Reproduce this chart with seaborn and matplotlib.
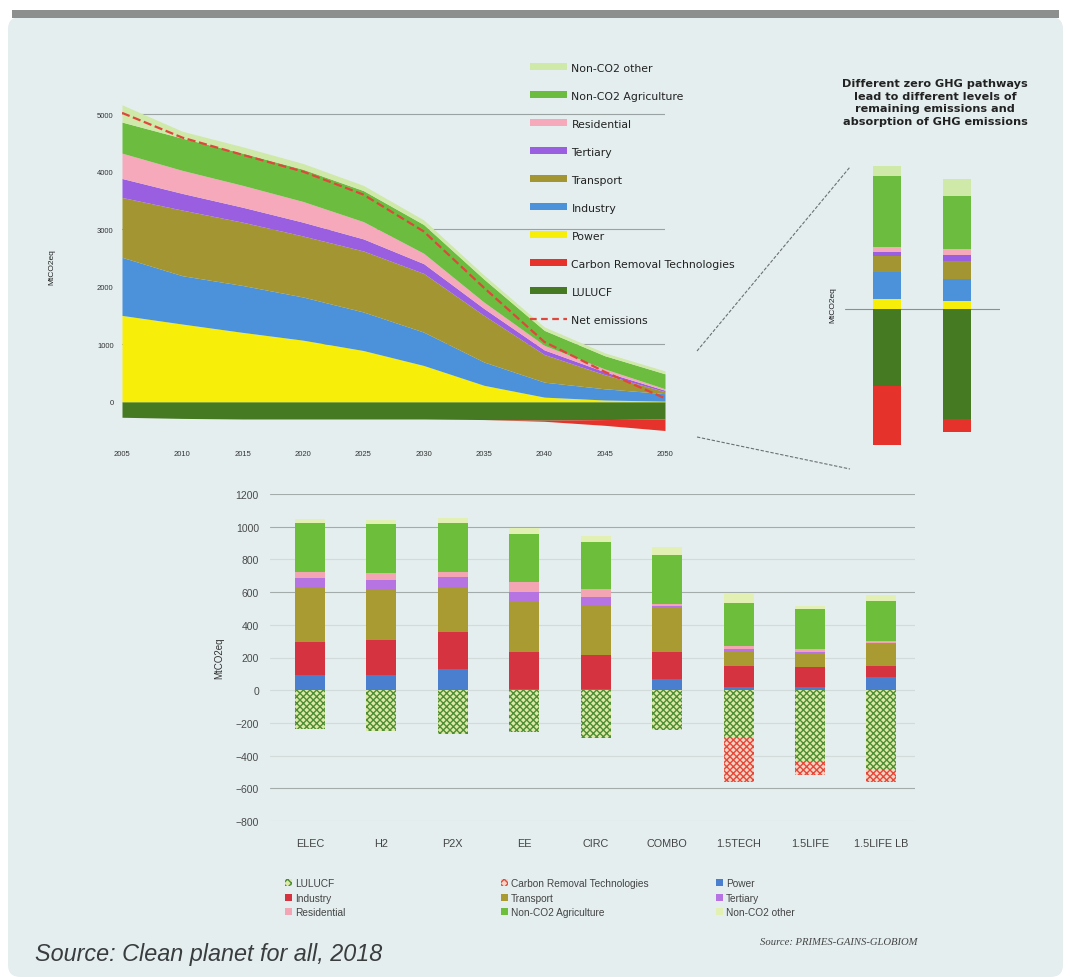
import numpy as np
import pandas as pd
import seaborn as sns
import matplotlib.pyplot as plt
from matplotlib.patches import Patch, Rectangle, FancyBboxPatch
from matplotlib.lines import Line2D

sns.set_theme(style="white")
plt.rcParams['font.family'] = ['Liberation Sans', 'DejaVu Sans']

# ---- top chart: EU GHG emissions by sector (MtCO2eq) ----
years = [2005, 2010, 2015, 2020, 2025, 2030, 2035, 2040, 2045, 2050]
power = [1500, 1350, 1205, 1070, 890, 630, 285, 80, 30, 10]
industry = [1010, 840, 815, 750, 670, 580, 405, 260, 195, 130]
transport = [1040, 1140, 1100, 1060, 1060, 1020, 810, 480, 245, 35]
tertiary = [330, 290, 260, 240, 210, 170, 120, 80, 50, 25]
residential = [440, 400, 380, 360, 300, 180, 110, 80, 50, 25]
agri = [540, 560, 560, 560, 540, 500, 400, 260, 230, 260]
other = [300, 120, 110, 100, 90, 80, 70, 60, 50, 50]
lulucf = [-270, -290, -300, -300, -300, -300, -310, -320, -310, -300]
crt = [0, 0, 0, 0, 0, 0, 0, -20, -100, -200]
net = [5020, 4590, 4290, 4000, 3600, 2960, 1980, 1040, 520, 60]

# ---- right chart: 2050 breakdown for two pathways ----
path_power = [43, 34]
path_industry = [115, 94]
path_transport = [68, 77]
path_tertiary = [17, 25]
path_residential = [21, 25]
path_agri = [302, 225]
path_other = [43, 72]
path_lulucf = [-330, -468]
path_crt = [-250, -55]

# ---- bottom chart: 2050 emissions by scenario ----
scenarios = ["ELEC", "H2", "P2X", "EE", "CIRC", "COMBO", "1.5TECH", "1.5LIFE", "1.5LIFE LB"]
b_power = [90, 95, 130, 10, 10, 70, 20, 20, 80]
b_industry = [205, 210, 225, 225, 205, 165, 130, 120, 70]
b_transport = [335, 310, 275, 305, 305, 265, 90, 80, 130]
b_tertiary = [55, 60, 60, 60, 50, 15, 15, 15, 10]
b_residential = [35, 40, 30, 60, 50, 15, 15, 15, 10]
b_agri = [300, 300, 305, 295, 285, 295, 265, 245, 245]
b_other = [25, 25, 30, 40, 40, 50, 60, 20, 40]
b_lulucf = [-235, -250, -270, -255, -295, -245, -285, -430, -490]
b_crt = [0, 0, 0, 0, 0, 0, -275, -90, -70]

top_colors = {
    "Non-CO2 other": "#cfe9a8",
    "Non-CO2 Agriculture": "#6cbd3f",
    "Residential": "#f5a9bb",
    "Tertiary": "#9a5ee0",
    "Transport": "#a29532",
    "Industry": "#4b92da",
    "Power": "#f7ef0a",
    "Carbon Removal Technologies": "#e5332b",
    "LULUCF": "#467a22",
}
bot_colors = {
    "Power": "#4a7fcf",
    "Industry": "#d63340",
    "Transport": "#a99b31",
    "Tertiary": "#b673e2",
    "Residential": "#f4a5b4",
    "Non-CO2 Agriculture": "#6dbf3b",
    "Non-CO2 other": "#e3f0b4",
}

W, H = 1071, 978
fig = plt.figure(figsize=(W / 100, H / 100), dpi=100, facecolor="white")

# panel background
fig.add_artist(FancyBboxPatch((8 / W, 0.0), 1 - 16 / W, 1 - 18 / H,
                              boxstyle="round,pad=0,rounding_size=0.012",
                              transform=fig.transFigure, facecolor="#e4eeef",
                              edgecolor="none", zorder=-10))
fig.add_artist(Rectangle((12 / W, 1 - 19 / H), 1 - 24 / W, 8 / H,
                         transform=fig.transFigure, facecolor="#8d8f8f",
                         edgecolor="none", zorder=-9))

# ---------------- top stacked area ----------------
ax1 = fig.add_axes([122 / W, 1 - 443 / H, (665 - 122) / W, (443 - 92) / H])
ax1.set_facecolor("none")
ax1.stackplot(years, lulucf, crt,
              colors=[top_colors["LULUCF"], top_colors["Carbon Removal Technologies"]], lw=0)
ax1.stackplot(years, power, industry, transport, tertiary, residential, agri, other,
              colors=[top_colors[k] for k in ["Power", "Industry", "Transport", "Tertiary",
                                               "Residential", "Non-CO2 Agriculture", "Non-CO2 other"]],
              lw=0)
sns.lineplot(x=years, y=net, ax=ax1, color="#e0473c", linestyle="--", lw=1.6,
             dashes=(4, 2), legend=False)
ax1.set_xlim(2005, 2050)
ax1.set_ylim(-700, 5400)
ax1.set_xticks(years)
ax1.set_yticks(range(0, 5001, 1000))
ax1.tick_params(labelsize=5.5, colors="#333333", length=0, pad=6)
ax1.set_ylabel("MtCO2eq", fontsize=6, color="#222222", labelpad=30)
for s in ax1.spines.values():
    s.set_visible(False)
ax1.set_axisbelow(True)
ax1.yaxis.grid(True, color="#9aa2a2", lw=0.8)
for i, gl in enumerate(ax1.yaxis.get_gridlines()):
    if i % 2 == 0:
        gl.set_visible(False)

top_order = ["Non-CO2 other", "Non-CO2 Agriculture", "Residential", "Tertiary", "Transport",
             "Industry", "Power", "Carbon Removal Technologies", "LULUCF"]
h_top = [Patch(facecolor=top_colors[k], edgecolor="none") for k in top_order]
h_top.append(Line2D([0], [0], color="#e0473c", lw=1.6, linestyle="--", dashes=(3, 2)))
fig.legend(h_top, top_order + ["Net emissions"], loc="upper left",
           bbox_to_anchor=(520 / W, 1 - 54 / H), frameon=False,
           prop={"family": "DejaVu Sans", "size": 7.8},
           handlelength=3.4, handleheight=0.6, labelspacing=1.66, handletextpad=0.45,
           labelcolor="#222222")

# ---------------- right: two pathway bars ----------------
ax2 = fig.add_axes([845 / W, 1 - 460 / H, 155 / W, 310 / H])
ax2.set_facecolor("none")
pos = np.arange(2)
bottom = np.zeros(2)
for vals, key in [(path_power, "Power"), (path_industry, "Industry"),
                  (path_transport, "Transport"), (path_tertiary, "Tertiary"),
                  (path_residential, "Residential"), (path_agri, "Non-CO2 Agriculture"),
                  (path_other, "Non-CO2 other")]:
    ax2.bar(pos, vals, width=0.39, bottom=bottom, color=top_colors[key], lw=0)
    bottom += np.array(vals)
bottom = np.zeros(2)
for vals, key in [(path_lulucf, "LULUCF"), (path_crt, "Carbon Removal Technologies")]:
    ax2.bar(pos, vals, width=0.39, bottom=bottom, color=top_colors[key], lw=0)
    bottom += np.array(vals)
ax2.axhline(0, color="#8a8f8f", lw=0.8, zorder=0)
ax2.set_xlim(-0.6, 1.614)
ax2.set_ylim(-640, 680)
ax2.set_xticks([])
ax2.set_yticks([])
ax2.set_ylabel("MtCO2eq", fontsize=6, color="#222222", labelpad=6)
for s in ax2.spines.values():
    s.set_visible(False)
fig.text(935 / W, 1 - 79 / H,
         "Different zero GHG pathways\nlead to different levels of\nremaining emissions and\nabsorption of GHG emissions",
         ha="center", va="top", family="DejaVu Sans", fontsize=8.1, fontweight="bold",
         color="#222222", linespacing=1.32)

# connector lines from 2050 to the pathway bars
fig.add_artist(Line2D([697 / W, 850 / W], [1 - 352 / H, 1 - 168 / H], transform=fig.transFigure,
                      color="#6b7070", lw=0.8, linestyle=(0, (3, 1.5))))
fig.add_artist(Line2D([697 / W, 850 / W], [1 - 438 / H, 1 - 470 / H], transform=fig.transFigure,
                      color="#6b7070", lw=0.8, linestyle=(0, (3, 1.5))))

# ---------------- bottom stacked bars ----------------
ax3 = fig.add_axes([270 / W, 1 - 822 / H, 645 / W, 327 / H])
ax3.set_facecolor("none")
x = np.arange(len(scenarios))
bw = 0.42
bottom = np.zeros(len(x))
for vals, key in [(b_power, "Power"), (b_industry, "Industry"), (b_transport, "Transport"),
                  (b_tertiary, "Tertiary"), (b_residential, "Residential"),
                  (b_agri, "Non-CO2 Agriculture"), (b_other, "Non-CO2 other")]:
    ax3.bar(x, vals, width=bw, bottom=bottom, color=bot_colors[key], lw=0)
    bottom += np.array(vals)
hatch_styles = {
    "LULUCF": dict(facecolor="#dde9a6", edgecolor="#4f8d35"),
    "Carbon Removal Technologies": dict(facecolor="#f9d3c4", edgecolor="#e2493a"),
}
bottom = np.zeros(len(x))
for vals, key in [(b_lulucf, "LULUCF"), (b_crt, "Carbon Removal Technologies")]:
    ax3.bar(x, vals, width=bw, bottom=bottom, hatch="xxxxx", lw=0, **hatch_styles[key])
    bottom += np.array(vals)
ax3.set_xlim(-0.56, 8.47)
ax3.set_ylim(-800, 1200)
ax3.set_yticks(range(-800, 1201, 200))
ax3.set_xticks(x)
ax3.set_xticklabels(scenarios)
ax3.tick_params(axis="y", labelsize=7.5, colors="#4a4a4a", length=0, pad=8)
ax3.tick_params(axis="x", labelsize=7.8, colors="#444444", length=0, pad=12)
ax3.set_ylabel("MtCO2eq", fontsize=7, color="#333333", labelpad=8)
for s in ax3.spines.values():
    s.set_visible(False)
ax3.set_axisbelow(True)
ax3.yaxis.grid(True, color="#d2dada", lw=0.8)
strong = {1200, 1000, 600, -600}
for t, gl in zip(ax3.get_yticks(), ax3.yaxis.get_gridlines()):
    if int(t) in strong:
        gl.set_color("#a3abab")

def leg_handle(key):
    if key in hatch_styles:
        return Patch(hatch="xxxx", lw=0, **hatch_styles[key])
    return Patch(facecolor=bot_colors[key], edgecolor="none")

columns = [
    (["LULUCF", "Industry", "Residential"], 276),
    (["Carbon Removal Technologies", "Transport", "Non-CO2 Agriculture"], 492),
    (["Power", "Tertiary", "Non-CO2 other"], 707),
]
for keys, xpos in columns:
    fig.legend([leg_handle(k) for k in keys], keys, loc="upper left",
               bbox_to_anchor=(xpos / W, 1 - 870 / H), frameon=False, fontsize=7.3,
               handlelength=0.7, handleheight=0.7, labelspacing=0.45, handletextpad=0.3,
               labelcolor="#444444")

fig.text(760 / W, 1 - 943 / H, "Source: PRIMES-GAINS-GLOBIOM", family="Liberation Serif",
         style="italic", fontsize=7.7, color="#444444", va="center")
fig.text(35 / W, 1 - 955 / H, "Source: Clean planet for all, 2018", style="italic",
         fontsize=16.8, color="#3a3d3d", va="center")

fig.savefig("out.png", dpi=100, facecolor=fig.get_facecolor())
